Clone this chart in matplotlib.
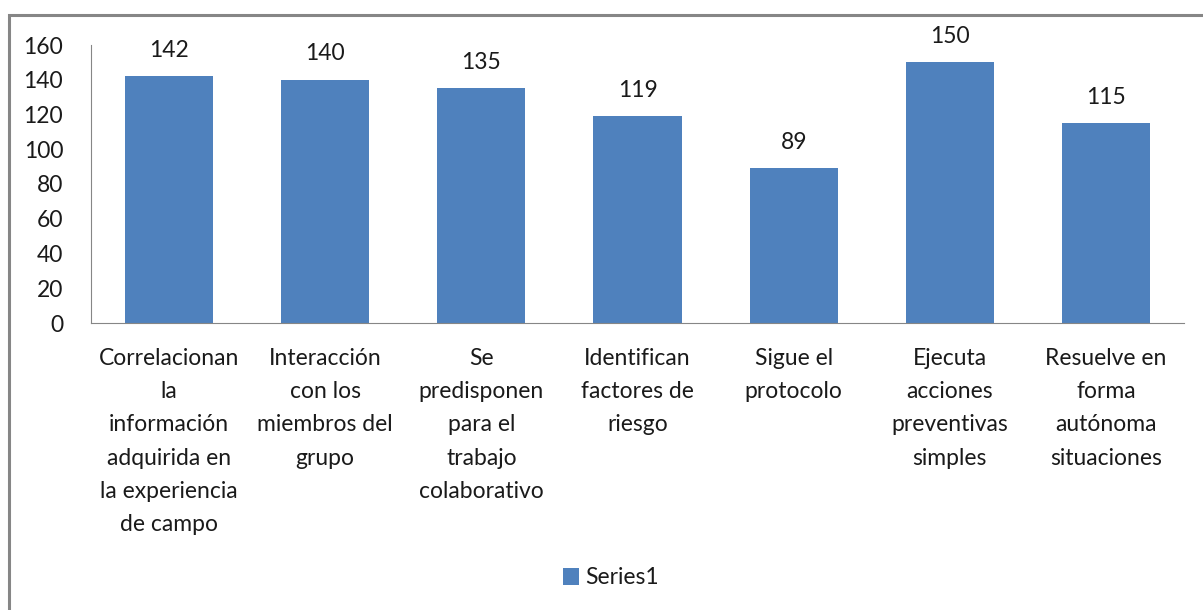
import matplotlib.pyplot as plt
from matplotlib.patches import Rectangle

# datos del grafico
categorias = [
    "Correlacionan\nla\ninformación\nadquirida en\nla experiencia\nde campo",
    "Interacción\ncon los\nmiembros del\ngrupo",
    "Se\npredisponen\npara el\ntrabajo\ncolaborativo",
    "Identifican\nfactores de\nriesgo",
    "Sigue el\nprotocolo",
    "Ejecuta\nacciones\npreventivas\nsimples",
    "Resuelve en\nforma\nautónoma\nsituaciones",
]
valores = [142, 140, 135, 119, 89, 150, 115]
serie = "Series1"
yticks = [0, 20, 40, 60, 80, 100, 120, 140, 160]

plt.rcParams['font.family'] = ['Lato', 'DejaVu Sans']
color_barra = '#4F81BD'
color_texto = '#1a1a1a'
fs = 16.5

W, H = 1203, 610
fig = plt.figure(figsize=(W / 100, H / 100), dpi=100)
ax = fig.add_axes([91 / W, 1 - 323 / H, (1184 - 91) / W, (323 - 45) / H])

x = list(range(len(valores)))
bars = ax.bar(x, valores, width=0.565, color=color_barra, label=serie, zorder=2)

# etiquetas de valores
for b, v in zip(bars, valores):
    ax.annotate(str(v), (b.get_x() + b.get_width() / 2, v), xytext=(0, 11),
                textcoords='offset points', ha='center', va='bottom',
                fontsize=fs, color=color_texto)

ax.set_xlim(-0.5, len(valores) - 0.5)
ax.set_ylim(0, 160)
ax.set_yticks(yticks)
ax.set_xticks(x)
ax.set_xticklabels(categorias, fontsize=fs, color=color_texto, linespacing=1.72,
                   va='top')
ax.tick_params(axis='x', length=0, pad=18)
ax.tick_params(axis='y', length=0, pad=20, labelsize=fs, labelcolor=color_texto)

for s in ['top', 'right']:
    ax.spines[s].set_visible(False)
ax.spines['left'].set_color('#868686')
ax.spines['bottom'].set_color('#868686')

# leyenda
leg = fig.legend(loc='center', bbox_to_anchor=(611 / W, 1 - 578 / H), frameon=False,
                 fontsize=fs, handlelength=0.7, handleheight=0.7, handletextpad=0.3)
for t in leg.get_texts():
    t.set_color(color_texto)

# marco del grafico
fig.patches.append(Rectangle((9 / W, -0.1), 1.2, 1 - 15 / H + 0.1,
                             transform=fig.transFigure, fill=False,
                             edgecolor='#868686', linewidth=2.2))

fig.savefig('out.png', dpi=100)
